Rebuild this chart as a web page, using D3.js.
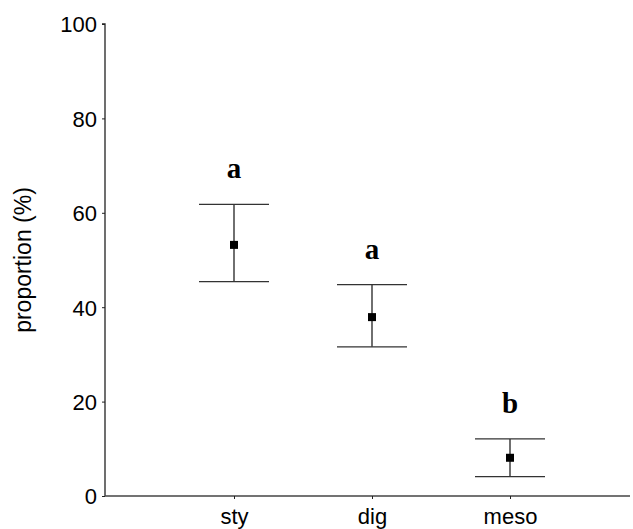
<!DOCTYPE html>
<html><head><meta charset="utf-8">
<script src="https://cdn.jsdelivr.net/npm/d3@7"></script>
<style>body{margin:0;background:#fff}</style>
</head><body>
<svg id="c" width="633" height="529"></svg>
<script>
const categories = ["sty", "dig", "meso"];
const means = [53.2, 37.9, 8.1];
const upper = [61.8, 44.8, 12.1];
const lower = [45.4, 31.6, 4.1];
const letters = ["a", "a", "b"];
const yTicks = [0, 20, 40, 60, 80, 100];

const svg = d3.select("#c");
const y = d3.scaleLinear().domain([0, 100]).range([496, 24]);
const x = d3.scalePoint().domain(categories).range([234, 510]);
const left = 105, right = 630;

// y axis
const ya = svg.append("g").attr("transform", `translate(${left},0)`)
  .call(d3.axisLeft(y).tickValues(yTicks).tickSize(3).tickPadding(5));
ya.select(".domain").attr("stroke", "#222").attr("stroke-width", 1.3).attr("d", `M-3,${y(100)}H0V${y(0)}`);
ya.selectAll(".tick line").attr("stroke", "#222");
ya.selectAll(".tick text").attr("font-family", "Liberation Sans, Arial, sans-serif").attr("font-size", 22).attr("fill", "#000").attr("dy", "0.36em");

// x axis
const xa = svg.append("g").attr("transform", `translate(0,${y(0)})`)
  .call(d3.axisBottom(x).tickSize(3).tickPadding(9));
xa.select(".domain").attr("stroke", "#444").attr("stroke-width", 1.3).attr("d", `M${left},0H${right}`);
xa.selectAll(".tick line").attr("stroke", "#222");
xa.selectAll(".tick text").attr("font-family", "Liberation Sans, Arial, sans-serif").attr("font-size", 22).attr("fill", "#000");

// y label
svg.append("text").attr("transform", `translate(31,${(y(0)+y(100))/2}) rotate(-90)`)
  .attr("text-anchor", "middle").attr("font-family", "Liberation Sans, Arial, sans-serif")
  .attr("font-size", 23).text("proportion (%)");

const capHalf = 35;
const g = svg.append("g");
categories.forEach((c, i) => {
  const cx = x(c);
  g.append("line").attr("x1", cx).attr("x2", cx).attr("y1", y(upper[i])).attr("y2", y(lower[i])).attr("stroke", "#222").attr("stroke-width", 1.3);
  [upper[i], lower[i]].forEach(v => g.append("line").attr("x1", cx - capHalf).attr("x2", cx + capHalf).attr("y1", y(v)).attr("y2", y(v)).attr("stroke", "#333").attr("stroke-width", 1.3));
  g.append("rect").attr("x", cx - 4).attr("y", y(means[i]) - 4).attr("width", 8).attr("height", 8).attr("fill", "#000");
  g.append("text").attr("x", cx).attr("y", y(upper[i]) - 26).attr("text-anchor", "middle")
    .attr("font-family", "Liberation Serif, Times New Roman, serif").attr("font-weight", "bold").attr("font-size", 29).text(letters[i]);
});
</script>
</body></html>
